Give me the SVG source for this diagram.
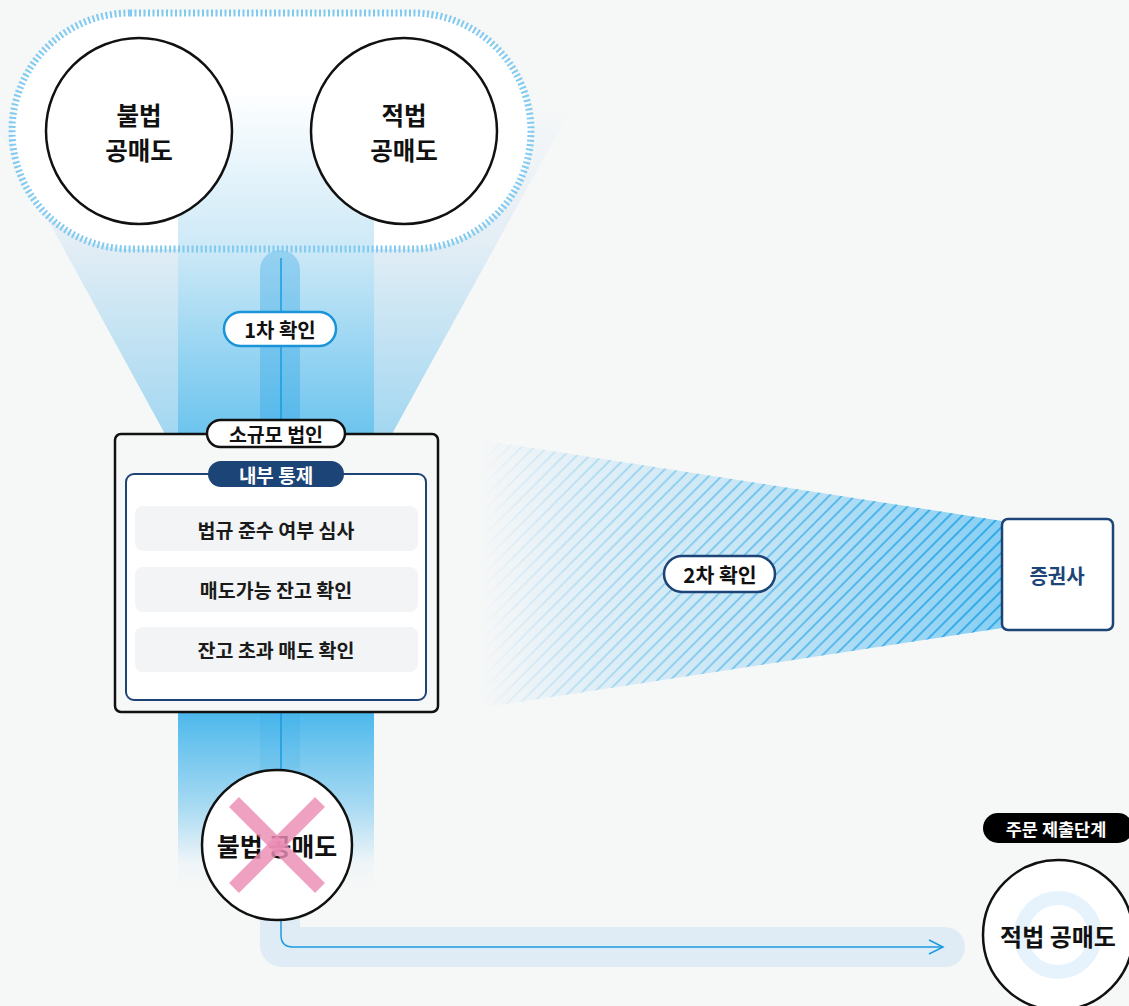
<svg xmlns="http://www.w3.org/2000/svg" width="1129" height="1006" viewBox="0 0 1129 1006">
<style>
.t{font-family:"Noto Sans CJK KR","Noto Sans",sans-serif;text-anchor:middle;dominant-baseline:central}
.b{font-weight:700}
.m{font-weight:600}
.circ{fill:#fff;stroke:#111;stroke-width:2.5}
.pill{fill:#fff;stroke-width:2.5}
.item{fill:#f3f4f5}
.conn{fill:none;stroke:#1a9be0;stroke-width:1.5}
</style>
<defs>
<linearGradient id="gTrap" x1="0" y1="110" x2="0" y2="434" gradientUnits="userSpaceOnUse">
<stop offset="0" stop-color="#f5f7f8"/>
<stop offset="0.4" stop-color="#e4eef5"/>
<stop offset="1" stop-color="#a2d7f1"/>
</linearGradient>
<linearGradient id="gCol" x1="0" y1="90" x2="0" y2="435" gradientUnits="userSpaceOnUse">
<stop offset="0" stop-color="#ffffff"/>
<stop offset="0.46" stop-color="#cde9f7"/>
<stop offset="1" stop-color="#6cc4ee"/>
</linearGradient>
<linearGradient id="gCol2" x1="0" y1="712" x2="0" y2="895" gradientUnits="userSpaceOnUse">
<stop offset="0" stop-color="#4cb8ec"/>
<stop offset="0.5" stop-color="#a5d9f2"/>
<stop offset="0.82" stop-color="#edf4f8"/>
<stop offset="1" stop-color="#f6f7f7" stop-opacity="0"/>
</linearGradient>
<linearGradient id="gHatch" x1="480" y1="0" x2="1002" y2="0" gradientUnits="userSpaceOnUse">
<stop offset="0" stop-color="#f6f7f7"/>
<stop offset="0.15" stop-color="#e6f1f7"/>
<stop offset="0.5" stop-color="#c8e6f5"/>
<stop offset="1" stop-color="#88cff3"/>
</linearGradient>
<linearGradient id="gMask" x1="480" y1="0" x2="1002" y2="0" gradientUnits="userSpaceOnUse">
<stop offset="0" stop-color="#000"/>
<stop offset="0.3" stop-color="#5a5a5a"/>
<stop offset="1" stop-color="#fff"/>
</linearGradient>
<pattern id="stripes" width="9" height="9" patternUnits="userSpaceOnUse" patternTransform="rotate(45)">
<rect x="0" y="0" width="1.8" height="9" fill="#27a6e7"/>
</pattern>
<mask id="hatchMask" maskUnits="userSpaceOnUse" x="470" y="430" width="540" height="290">
<rect x="470" y="430" width="540" height="290" fill="url(#gMask)"/>
</mask>
</defs>
<rect width="1129" height="1006" fill="#f6f7f7"/>

<!-- background flows -->
<polygon points="-12,110 570,110 392,434 165,434" fill="url(#gTrap)"/>
<rect x="12" y="13" width="519" height="236" rx="118" fill="#fff"/>
<rect x="178" y="90" width="196" height="345" fill="url(#gCol)"/>
<path d="M260,435 L260,270 A20,20 0 0 1 300,270 L300,435 Z" fill="#1a9be0" fill-opacity="0.3"/>
<rect x="12" y="13" width="519" height="236" rx="118" fill="none" stroke="#80caf1" stroke-width="7" stroke-dasharray="2 2.5"/>
<rect x="178" y="712" width="196" height="183" fill="url(#gCol2)"/>
<rect x="260" y="712" width="40" height="80" fill="#1a9be0" fill-opacity="0.12"/>
<path d="M260,880 L300,880 L300,927 L945,927 A20,20 0 0 1 945,967 L282,967 A22,22 0 0 1 260,945 Z" fill="#e0ecf5"/>

<polygon points="480,440 1002,521 1002,628 480,708" fill="url(#gHatch)"/>
<polygon points="480,440 1002,521 1002,628 480,708" fill="url(#stripes)" mask="url(#hatchMask)"/>

<!-- connectors -->
<g id="connectors">
<line class="conn" x1="281" y1="258" x2="281" y2="435"/>
<path class="conn" d="M281,712 L281,935 Q281,947 293,947 L942,947"/>
<path class="conn" d="M929,940 L943,947 L929,954"/>
</g>

<g id="node-illegal-top">
<circle class="circ" cx="139" cy="131" r="93"/>
<text class="t b" x="139" y="114" font-size="24.5" fill="#111">불법</text>
<text class="t b" x="139" y="149" font-size="24.5" fill="#111">공매도</text>
</g>
<g id="node-legal-top">
<circle class="circ" cx="404" cy="131" r="93"/>
<text class="t b" x="404" y="114" font-size="24.5" fill="#111">적법</text>
<text class="t b" x="404" y="149" font-size="24.5" fill="#111">공매도</text>
</g>

<g id="label-check1">
<rect class="pill" x="224" y="312" width="112" height="34" rx="17" stroke="#1a93d8"/>
<text class="t b" x="280" y="329" font-size="20" fill="#111">1차 확인</text>
</g>

<g id="node-company">
<rect x="115" y="434" width="323" height="278" rx="6" fill="#f6f7f7" stroke="#111" stroke-width="2.5"/>
<rect class="pill" x="207" y="420" width="138" height="27" rx="13.5" stroke="#111"/>
<text class="t b" x="276" y="433.5" font-size="19.5" fill="#111">소규모 법인</text>
<g id="node-internal-control">
<rect x="126" y="474" width="300" height="226" rx="8" fill="#fff" stroke="#1d4474" stroke-width="2"/>
<rect x="208" y="461" width="136" height="26" rx="13" fill="#1c4476"/>
<text class="t b" x="276" y="474" font-size="19" fill="#fff">내부 통제</text>
<rect class="item" x="135" y="506" width="283" height="45" rx="8"/>
<text class="t m" x="276" y="529" font-size="19.5" fill="#1a1a1a">법규 준수 여부 심사</text>
<rect class="item" x="135" y="567" width="283" height="45" rx="8"/>
<text class="t m" x="276" y="589" font-size="19.5" fill="#1a1a1a">매도가능 잔고 확인</text>
<rect class="item" x="135" y="627" width="283" height="45" rx="8"/>
<text class="t m" x="276" y="649" font-size="19.5" fill="#1a1a1a">잔고 초과 매도 확인</text>
</g>
</g>

<g id="label-check2">
<rect class="pill" x="664" y="556" width="111" height="36" rx="18" stroke="#1c4476"/>
<text class="t b" x="720" y="574" font-size="20.5" fill="#111">2차 확인</text>
</g>

<g id="node-broker">
<rect x="1002" y="519" width="111" height="111" rx="6" fill="#fff" stroke="#1c4476" stroke-width="2.5"/>
<text class="t m" x="1057" y="575" font-size="20" fill="#1c4476">증권사</text>
</g>

<g id="node-illegal-bottom">
<circle class="circ" cx="277" cy="845" r="75"/>
<text class="t b" x="277" y="845" font-size="25" fill="#111">불법 공매도</text>
<g stroke="#ec8cb4" stroke-opacity="0.82" stroke-width="14">
<line x1="234" y1="802" x2="320" y2="888"/>
<line x1="320" y1="802" x2="234" y2="888"/>
</g>
</g>

<g id="label-order">
<rect x="983" y="813" width="150" height="30" rx="15" fill="#000"/>
<text class="t m" x="1056" y="828" font-size="17.5" fill="#fff">주문 제출단계</text>
</g>

<g id="node-legal-bottom">
<circle class="circ" cx="1058" cy="935" r="75"/>
<circle cx="1058" cy="935" r="37" fill="none" stroke="#e6f3fc" stroke-width="14"/>
<text class="t b" x="1058" y="935" font-size="24" fill="#111">적법 공매도</text>
</g>
</svg>
